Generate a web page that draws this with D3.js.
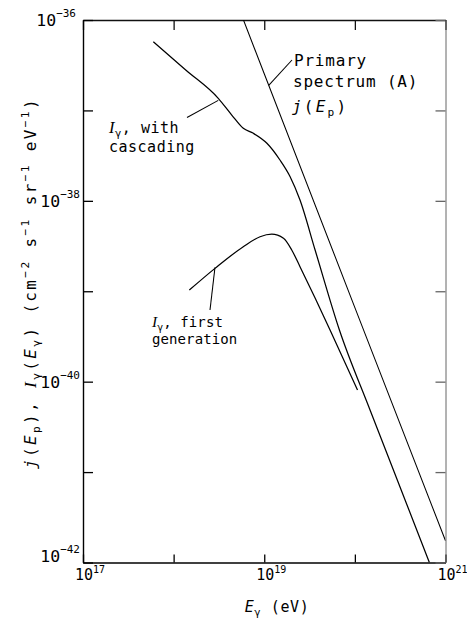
<!DOCTYPE html>
<html>
<head>
<meta charset="utf-8">
<script src="https://cdn.jsdelivr.net/npm/d3@7"></script>
<style>
  body { margin: 0; background: #fff; }
  svg { display: block; }
</style>
</head>
<body>
<svg id="chart" width="467" height="619"></svg>
<script>
// ---- data -------------------------------------------------------------
// Primary proton spectrum j(E_p): a power law, given at a few energies (eV)
const primaryE = [5.9e18, 1e19, 1e20, 1e21];
const primaryJ = [1.0e-36, 2.54e-37, 6.6e-40, 1.74e-42];

// Photon flux with cascading
const cascadeE = [5.97e17, 1.36e18, 3.11e18, 4.38e18, 5.87e18, 7.59e18, 1.07e19, 1.49e19,
                  1.93e19, 2.48e19, 3.64e19, 6.75e19, 1.47e20, 3.58e20, 6.64e20];
const cascadeI = [5.75e-37, 2.80e-37, 1.36e-37, 8.89e-38, 6.34e-38, 5.58e-38, 4.33e-38, 2.83e-38,
                  1.85e-38, 1.02e-38, 2.86e-39, 3.73e-40, 4.86e-41, 4.92e-42, 1.0e-42];

// Photon flux, first generation only
const firstE = [1.49e18, 2.86e18, 5.87e18, 8.99e18, 1.21e19, 1.63e19, 2.01e19,
                2.48e19, 3.64e19, 5.32e19, 1.07e20];
const firstI = [1.03e-39, 1.79e-39, 3.11e-39, 4.01e-39, 4.27e-39, 3.85e-39, 2.86e-39,
                1.87e-39, 8.41e-40, 3.73e-40, 8.09e-41];

// Axis ticks
const xTicks = [1e17, 1e18, 1e19, 1e20, 1e21];
const xLabelTicks = [1e17, 1e19, 1e21];
const yTicks = [1e-36, 1e-37, 1e-38, 1e-39, 1e-40, 1e-41, 1e-42];
const yLabelTicks = [1e-36, 1e-38, 1e-40, 1e-42];

// ---- layout -----------------------------------------------------------
const FONT = "'DejaVu Sans Mono', monospace";
const SERIF = "'Liberation Serif', 'DejaVu Serif', serif";
const plot = { left: 83, right: 445.5, top: 20, bottom: 562.5 };

const svg = d3.select('#chart');
const x = d3.scaleLog().domain([1e17, 1e21]).range([plot.left, plot.right]);
const y = d3.scaleLog().domain([1e-36, 1e-42]).range([plot.top, plot.bottom]);

svg.append('defs').append('clipPath').attr('id', 'plotclip')
  .append('rect')
  .attr('x', plot.left).attr('y', plot.top)
  .attr('width', plot.right - plot.left).attr('height', plot.bottom - plot.top);

// ---- axes (ticks point inwards on all four sides) --------------------
function styleAxis(g, color, width) {
  g.selectAll('path.domain').attr('stroke', color).attr('stroke-width', width);
  g.selectAll('.tick line').attr('stroke', color).attr('stroke-width', 1.3);
}
svg.append('g').attr('transform', `translate(0,${plot.bottom})`)
  .call(d3.axisBottom(x).tickValues(xTicks).tickSize(-8).tickSizeOuter(0).tickFormat(''))
  .call(g => styleAxis(g, '#000', 1.5));
svg.append('g').attr('transform', `translate(0,${plot.top})`)
  .call(d3.axisTop(x).tickValues(xTicks).tickSize(-10).tickSizeOuter(0).tickFormat(''))
  .call(g => styleAxis(g, '#111', 1.3));
svg.append('g').attr('transform', `translate(${plot.left},0)`)
  .call(d3.axisLeft(y).tickValues(yTicks).tickSize(-10).tickSizeOuter(0).tickFormat(''))
  .call(g => styleAxis(g, '#000', 1.4));
svg.append('g').attr('transform', `translate(${plot.right},0)`)
  .call(d3.axisRight(y).tickValues(yTicks).tickSize(-10).tickSizeOuter(0).tickFormat(''))
  .call(g => styleAxis(g, '#666', 1));

// ---- tick labels as 10 with a raised exponent -------------------------
const expOf = d => Math.round(Math.log10(d));
const minus = n => (n < 0 ? '\u2212' + (-n) : String(n));

svg.append('g').selectAll('text').data(yLabelTicks).join('text')
  .attr('x', d => (d === 1e-36 ? 76 : 80))
  .attr('y', d => y(d) + 6 - (d === 1e-42 ? 7 : 0))
  .attr('text-anchor', 'end')
  .attr('font-family', FONT).attr('font-size', 16.5).attr('fill', '#000')
  .each(function (d) {
    const t = d3.select(this);
    t.append('tspan').text('10');
    t.append('tspan').attr('font-size', 11).attr('dy', -9).text(minus(expOf(d)));
  });

svg.append('g').selectAll('text').data(xLabelTicks).join('text')
  .attr('x', d => x(d) + 7)
  .attr('y', 580)
  .attr('text-anchor', 'middle')
  .attr('font-family', FONT).attr('font-size', 15).attr('fill', '#000')
  .each(function (d) {
    const t = d3.select(this);
    t.append('tspan').text('10');
    t.append('tspan').attr('font-size', 10).attr('dy', -7).text(minus(expOf(d)));
  });

// ---- rich text helper (italic, script I, sub/superscripts) -------------
function rich(sel, parts, base) {
  let shift = 0;
  parts.forEach(([t, k]) => {
    const ts = sel.append('tspan').text(t);
    let target = 0;
    if (k === 'sub') target = base * 0.25;
    else if (k === 'sup') target = -base * 0.42;
    if (target !== shift) ts.attr('dy', target - shift);
    shift = target;
    if (k === 'sub' || k === 'sup') ts.attr('font-size', base * 0.7);
    if (k === 'i') ts.attr('font-style', 'italic');
    if (k === 'I') ts.attr('font-family', SERIF).attr('font-style', 'italic').attr('font-size', base * 1.1);
  });
  return sel;
}

// spread a text's letters so that it spans a given length
function fitLength(sel, target) {
  const node = sel.node();
  const n = node.getNumberOfChars();
  const base = parseFloat(sel.attr('letter-spacing') || 0);
  const len = node.getComputedTextLength();
  sel.attr('letter-spacing', base + (target - len) / n);
}

// axis titles
const xTitle = svg.append('text')
  .attr('x', 277).attr('y', 612).attr('text-anchor', 'middle')
  .attr('font-family', FONT).attr('font-size', 15).attr('letter-spacing', 0.6);
rich(xTitle, [['E', 'i'], ['\u03b3', 'sub'], [' (eV)', '']], 15);

const yTitle = svg.append('text')
  .attr('transform', 'translate(36,283) rotate(-90)')
  .attr('text-anchor', 'middle')
  .attr('font-family', FONT).attr('font-size', 16).attr('letter-spacing', 0);
rich(yTitle, [
  ['j', 'i'], ['(', ''], ['E', 'i'], ['p', 'sub'], ['),', ''], [' ', ''],
  ['I', 'I'], ['\u03b3', 'sub'], ['(', ''], ['E', 'i'], ['\u03b3', 'sub'], [')', ''],
  [' (cm', ''], ['\u22122', 'sup'], ['  s', ''], ['\u22121', 'sup'],
  ['  sr', ''], ['\u22121', 'sup'], ['  eV', ''], ['\u22121', 'sup'], [')', '']
], 16);
fitLength(yTitle, 372);

// ---- curves -----------------------------------------------------------
const line = d3.line().x(d => x(d[0])).y(d => y(d[1])).curve(d3.curveMonotoneX);
const curves = svg.append('g').attr('clip-path', 'url(#plotclip)')
  .attr('fill', 'none').attr('stroke', '#000').attr('stroke-linejoin', 'round');

curves.append('path').datum(d3.zip(primaryE, primaryJ))
  .attr('d', d3.line().x(d => x(d[0])).y(d => y(d[1])))
  .attr('stroke-width', 1.05);
curves.append('path').datum(d3.zip(cascadeE, cascadeI))
  .attr('d', line).attr('stroke-width', 1.25);
curves.append('path').datum(d3.zip(firstE, firstI))
  .attr('d', line).attr('stroke-width', 1.25);

// ---- annotations with leader lines -----------------------------------
// point on the primary power law at energy E (log-linear interpolation)
function primaryAt(E) {
  const lx = primaryE.map(Math.log10), ly = primaryJ.map(Math.log10);
  const s = (ly[1] - ly[0]) / (lx[1] - lx[0]);
  return Math.pow(10, ly[0] + s * (Math.log10(E) - lx[0]));
}
const leaders = svg.append('g').attr('stroke', '#000').attr('stroke-width', 1.05);
const pE = 1.12e19;
leaders.append('line').attr('x1', 292).attr('y1', 60)
  .attr('x2', x(pE)).attr('y2', y(primaryAt(pE)));
leaders.append('line').attr('x1', 187).attr('y1', 117.5)
  .attr('x2', x(cascadeE[2])).attr('y2', y(cascadeI[2]) + 2);
leaders.append('line').attr('x1', 210).attr('y1', 310)
  .attr('x2', x(firstE[1])).attr('y2', y(firstI[1]) - 1);

const notes = svg.append('g').attr('font-family', FONT).attr('fill', '#000');

const prim = notes.append('g').attr('font-size', 16).attr('letter-spacing', 0.8);
prim.append('text').attr('x', 294).attr('y', 66).text('Primary');
prim.append('text').attr('x', 293).attr('y', 87).text('spectrum (A)');
rich(prim.append('text').attr('x', 292).attr('y', 112).attr('letter-spacing', 2.2),
  [['j', 'i'], ['(', ''], ['E', 'i'], ['p', 'sub'], [')', '']], 16);

const casc = notes.append('g').attr('font-size', 15).attr('letter-spacing', 0.5);
rich(casc.append('text').attr('x', 109).attr('y', 133),
  [['I', 'I'], ['\u03b3', 'sub'], [',', ''], [' with', '']], 15);
casc.append('text').attr('x', 109).attr('y', 152).text('cascading');

const first = notes.append('g').attr('font-size', 14).attr('letter-spacing', 0.1);
rich(first.append('text').attr('x', 152).attr('y', 327),
  [['I', 'I'], ['\u03b3', 'sub'], [',', ''], [' first', '']], 14);
first.append('text').attr('x', 152).attr('y', 344).text('generation');
</script>
</body>
</html>
